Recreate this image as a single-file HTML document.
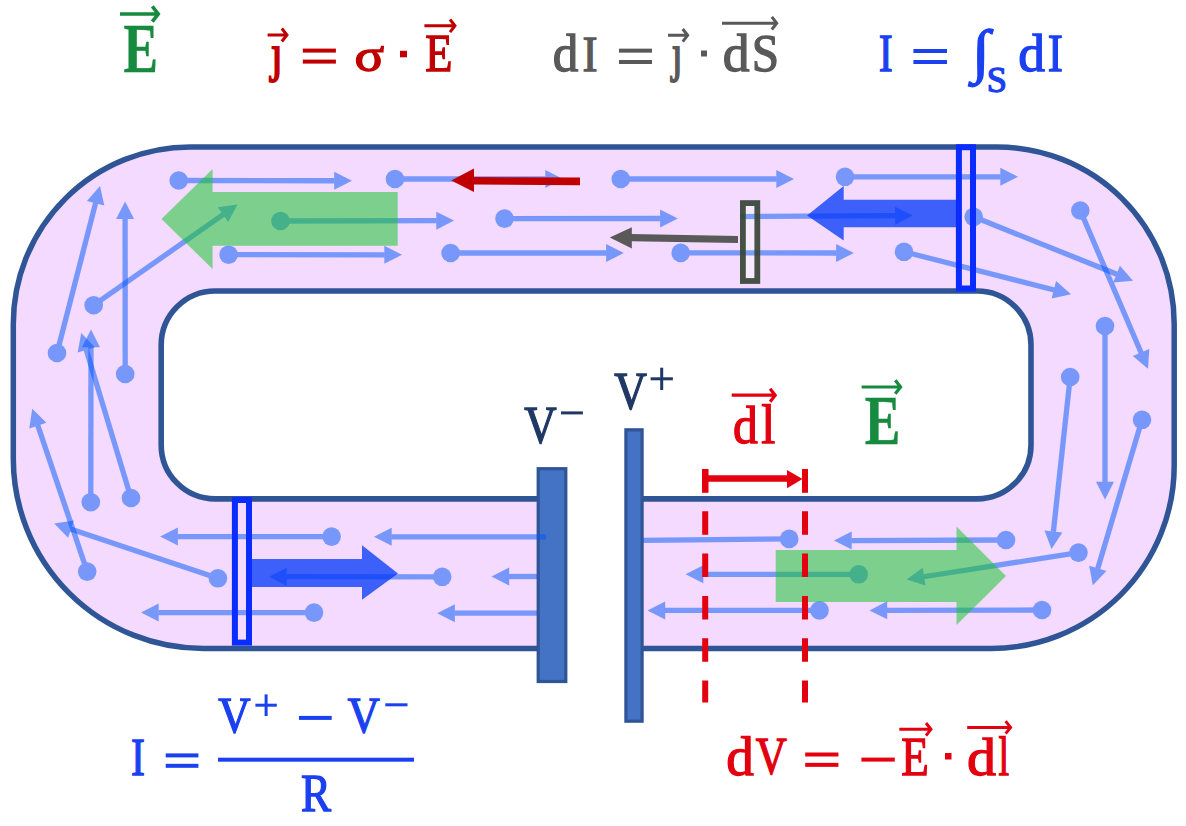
<!DOCTYPE html>
<html><head><meta charset="utf-8"><style>
html,body{margin:0;padding:0;background:#fff;}
svg{display:block;}
text{font-family:"Liberation Serif",serif;}
</style></head><body>
<svg width="1186" height="826" viewBox="0 0 1186 826">
<rect width="1186" height="826" fill="#fff"/>
<path d="M190.30 147.00H997.20A177.00 177.00 0 0 1 1174.20 324.00V465.50A183.00 183.00 0 0 1 991.20 648.50H203.30A190.00 190.00 0 0 1 13.30 458.50V324.00A177.00 177.00 0 0 1 190.30 147.00Z" fill="#f3dafe" stroke="#2f5597" stroke-width="5.5"/>
<path d="M215.20 291.00H977.00A54.00 54.00 0 0 1 1031.00 345.00V444.90A54.00 54.00 0 0 1 977.00 498.90H215.20A54.00 54.00 0 0 1 161.20 444.90V345.00A54.00 54.00 0 0 1 215.20 291.00Z" fill="#ffffff" stroke="#2f5597" stroke-width="5.6"/>
<rect x="566.00" y="485.00" width="59.00" height="180.00" fill="#ffffff"/>
<rect x="538.2" y="468.7" width="27.6" height="212.8" fill="#4472c4" stroke="#2f5597" stroke-width="3.2"/>
<rect x="625.9" y="429.8" width="16.2" height="291.4" fill="#4472c4" stroke="#2f5597" stroke-width="3.2"/>
<rect x="742.9" y="203.1" width="14.4" height="77.9" fill="#ffffff" opacity="0.4"/>
<g opacity="0.50"><path d="M178.70 180.50L334.70 180.77" stroke="#0056fa" stroke-width="5.30"/><path d="M351.90 180.80L334.18 189.77L334.22 171.77Z" fill="#0056fa"/><circle cx="178.70" cy="180.50" r="9.30" fill="#0056fa"/></g>
<g opacity="0.50"><path d="M395.00 179.00L545.80 179.00" stroke="#0056fa" stroke-width="5.30"/><path d="M563.00 179.00L545.30 188.00L545.30 170.00Z" fill="#0056fa"/><circle cx="395.00" cy="179.00" r="9.30" fill="#0056fa"/></g>
<g opacity="0.50"><path d="M620.80 179.00L776.80 179.00" stroke="#0056fa" stroke-width="5.30"/><path d="M794.00 179.00L776.30 188.00L776.30 170.00Z" fill="#0056fa"/><circle cx="620.80" cy="179.00" r="9.30" fill="#0056fa"/></g>
<g opacity="0.50"><path d="M845.00 176.80L1000.80 176.80" stroke="#0056fa" stroke-width="5.30"/><path d="M1018.00 176.80L1000.30 185.80L1000.30 167.80Z" fill="#0056fa"/><circle cx="845.00" cy="176.80" r="9.30" fill="#0056fa"/></g>
<g opacity="0.50"><path d="M280.50 221.00L436.80 220.64" stroke="#0056fa" stroke-width="5.30"/><path d="M454.00 220.60L436.32 229.64L436.28 211.64Z" fill="#0056fa"/><circle cx="280.50" cy="221.00" r="9.30" fill="#0056fa"/></g>
<g opacity="0.50"><path d="M504.50 218.60L660.60 218.51" stroke="#0056fa" stroke-width="5.30"/><path d="M677.80 218.50L660.11 227.51L660.09 209.51Z" fill="#0056fa"/><circle cx="504.50" cy="218.60" r="9.30" fill="#0056fa"/></g>
<g opacity="0.50"><path d="M740.00 216.60L895.60 215.70" stroke="#0056fa" stroke-width="5.30"/><path d="M912.80 215.60L895.15 224.70L895.05 206.70Z" fill="#0056fa"/></g>
<g opacity="0.50"><path d="M973.70 216.80L1117.04 274.30" stroke="#0056fa" stroke-width="5.30"/><path d="M1133.00 280.70L1113.22 282.46L1119.92 265.76Z" fill="#0056fa"/><circle cx="973.70" cy="216.80" r="9.30" fill="#0056fa"/></g>
<g opacity="0.50"><path d="M228.60 254.70L384.80 254.79" stroke="#0056fa" stroke-width="5.30"/><path d="M402.00 254.80L384.29 263.79L384.31 245.79Z" fill="#0056fa"/><circle cx="228.60" cy="254.70" r="9.30" fill="#0056fa"/></g>
<g opacity="0.50"><path d="M450.60 253.00L606.60 253.00" stroke="#0056fa" stroke-width="5.30"/><path d="M623.80 253.00L606.10 262.00L606.10 244.00Z" fill="#0056fa"/><circle cx="450.60" cy="253.00" r="9.30" fill="#0056fa"/></g>
<g opacity="0.50"><path d="M680.70 252.90L836.60 252.99" stroke="#0056fa" stroke-width="5.30"/><path d="M853.80 253.00L836.09 261.99L836.11 243.99Z" fill="#0056fa"/><circle cx="680.70" cy="252.90" r="9.30" fill="#0056fa"/></g>
<g opacity="0.50"><path d="M904.00 251.80L1054.33 289.97" stroke="#0056fa" stroke-width="5.30"/><path d="M1071.00 294.20L1051.63 298.57L1056.06 281.12Z" fill="#0056fa"/><circle cx="904.00" cy="251.80" r="9.30" fill="#0056fa"/></g>
<g opacity="0.50"><path d="M1080.30 210.50L1141.24 352.99" stroke="#0056fa" stroke-width="5.30"/><path d="M1148.00 368.80L1132.77 356.06L1149.32 348.99Z" fill="#0056fa"/><circle cx="1080.30" cy="210.50" r="9.30" fill="#0056fa"/></g>
<g opacity="0.50"><path d="M1105.00 326.00L1105.00 482.30" stroke="#0056fa" stroke-width="5.30"/><path d="M1105.00 499.50L1096.00 481.80L1114.00 481.80Z" fill="#0056fa"/><circle cx="1105.00" cy="326.00" r="9.30" fill="#0056fa"/></g>
<g opacity="0.50"><path d="M1070.20 377.00L1053.36 531.90" stroke="#0056fa" stroke-width="5.30"/><path d="M1051.50 549.00L1044.47 530.43L1062.36 532.38Z" fill="#0056fa"/><circle cx="1070.20" cy="377.00" r="9.30" fill="#0056fa"/></g>
<g opacity="0.50"><path d="M1142.00 419.80L1097.70 568.81" stroke="#0056fa" stroke-width="5.30"/><path d="M1092.80 585.30L1089.22 565.77L1106.47 570.90Z" fill="#0056fa"/><circle cx="1142.00" cy="419.80" r="9.30" fill="#0056fa"/></g>
<g opacity="0.50"><path d="M1078.50 552.60L923.59 576.75" stroke="#0056fa" stroke-width="5.30"/><path d="M906.60 579.40L922.70 567.78L925.48 585.57Z" fill="#0056fa"/><circle cx="1078.50" cy="552.60" r="9.30" fill="#0056fa"/></g>
<g opacity="0.50"><path d="M1006.00 540.00L851.20 540.54" stroke="#0056fa" stroke-width="5.30"/><path d="M834.00 540.60L851.67 531.54L851.73 549.54Z" fill="#0056fa"/><circle cx="1006.00" cy="540.00" r="9.30" fill="#0056fa"/></g>
<g opacity="0.50"><path d="M1042.00 610.00L886.70 610.36" stroke="#0056fa" stroke-width="5.30"/><path d="M869.50 610.40L887.18 601.36L887.22 619.36Z" fill="#0056fa"/><circle cx="1042.00" cy="610.00" r="9.30" fill="#0056fa"/></g>
<g opacity="0.50"><path d="M858.70 574.30L702.80 574.30" stroke="#0056fa" stroke-width="5.30"/><path d="M685.60 574.30L703.30 565.30L703.30 583.30Z" fill="#0056fa"/><circle cx="858.70" cy="574.30" r="9.30" fill="#0056fa"/></g>
<g opacity="0.50"><path d="M819.50 610.40L664.70 610.40" stroke="#0056fa" stroke-width="5.30"/><path d="M647.50 610.40L665.20 601.40L665.20 619.40Z" fill="#0056fa"/><circle cx="819.50" cy="610.40" r="9.30" fill="#0056fa"/></g>
<g opacity="0.50"><path d="M546.00 536.80L391.20 536.80" stroke="#0056fa" stroke-width="5.30"/><path d="M374.00 536.80L391.70 527.80L391.70 545.80Z" fill="#0056fa"/></g>
<g opacity="0.50"><path d="M537.00 576.50L508.70 576.50" stroke="#0056fa" stroke-width="5.30"/><path d="M491.50 576.50L509.20 567.50L509.20 585.50Z" fill="#0056fa"/></g>
<g opacity="0.50"><path d="M442.20 576.80L286.20 576.71" stroke="#0056fa" stroke-width="5.30"/><path d="M269.00 576.70L286.71 567.71L286.69 585.71Z" fill="#0056fa"/><circle cx="442.20" cy="576.80" r="9.30" fill="#0056fa"/></g>
<g opacity="0.50"><path d="M537.00 613.10L454.40 613.18" stroke="#0056fa" stroke-width="5.30"/><path d="M437.20 613.20L454.89 604.18L454.91 622.18Z" fill="#0056fa"/></g>
<g opacity="0.50"><path d="M331.60 536.60L177.40 536.60" stroke="#0056fa" stroke-width="5.30"/><path d="M160.20 536.60L177.90 527.60L177.90 545.60Z" fill="#0056fa"/><circle cx="331.60" cy="536.60" r="9.30" fill="#0056fa"/></g>
<g opacity="0.50"><path d="M217.90 578.30L70.51 528.96" stroke="#0056fa" stroke-width="5.30"/><path d="M54.20 523.50L73.84 520.58L68.13 537.65Z" fill="#0056fa"/><circle cx="217.90" cy="578.30" r="9.30" fill="#0056fa"/></g>
<g opacity="0.50"><path d="M314.00 612.60L158.20 612.60" stroke="#0056fa" stroke-width="5.30"/><path d="M141.00 612.60L158.70 603.60L158.70 621.60Z" fill="#0056fa"/><circle cx="314.00" cy="612.60" r="9.30" fill="#0056fa"/></g>
<g opacity="0.50"><path d="M87.20 571.60L37.71 425.10" stroke="#0056fa" stroke-width="5.30"/><path d="M32.20 408.80L46.39 422.69L29.34 428.45Z" fill="#0056fa"/><circle cx="87.20" cy="571.60" r="9.30" fill="#0056fa"/></g>
<g opacity="0.50"><path d="M90.80 502.20L90.98 346.80" stroke="#0056fa" stroke-width="5.30"/><path d="M91.00 329.60L99.98 347.31L81.98 347.29Z" fill="#0056fa"/><circle cx="90.80" cy="502.20" r="9.30" fill="#0056fa"/></g>
<g opacity="0.50"><path d="M131.00 498.00L86.17 349.47" stroke="#0056fa" stroke-width="5.30"/><path d="M81.20 333.00L94.93 347.34L77.70 352.55Z" fill="#0056fa"/><circle cx="131.00" cy="498.00" r="9.30" fill="#0056fa"/></g>
<g opacity="0.50"><path d="M57.00 353.00L95.71 202.66" stroke="#0056fa" stroke-width="5.30"/><path d="M100.00 186.00L104.30 205.39L86.87 200.90Z" fill="#0056fa"/><circle cx="57.00" cy="353.00" r="9.30" fill="#0056fa"/></g>
<g opacity="0.50"><path d="M125.20 374.00L125.11 218.60" stroke="#0056fa" stroke-width="5.30"/><path d="M125.10 201.40L134.11 219.09L116.11 219.11Z" fill="#0056fa"/><circle cx="125.20" cy="374.00" r="9.30" fill="#0056fa"/></g>
<g opacity="0.50"><path d="M93.70 305.20L223.41 214.37" stroke="#0056fa" stroke-width="5.30"/><path d="M237.50 204.50L228.16 222.03L217.84 207.28Z" fill="#0056fa"/><circle cx="93.70" cy="305.20" r="9.30" fill="#0056fa"/></g>
<g opacity="0.5"><path d="M643 540.4L789.2 538.9" stroke="#0056fa" stroke-width="5.3"/><circle cx="789.2" cy="538.9" r="9.3" fill="#0056fa"/></g>
<path d="M161.50 219.00L212.60 169.00L212.60 192.00L397.70 192.00L397.70 245.80L212.60 245.80L212.60 269.00Z" fill="#1cc62f" opacity="0.55"/>
<path d="M1006 576L956.5 526.4L956.5 550L775.7 550L775.7 602L956.5 602L956.5 625Z" fill="#1cc62f" opacity="0.55"/>
<path d="M807.10 215.60L843.70 186.00L843.70 199.80L958.00 199.80L958.00 227.30L843.70 227.30L843.70 240.40Z" fill="#0037fa" opacity="0.75"/>
<path d="M398 573.5L362 545.3L362 559L249 559L249 587L362 587L362 599.8Z" fill="#0037fa" opacity="0.75"/>
<path d="M474 177L580 177.6L580 185.2L474 184.6Z" fill="#c00000"/>
<path d="M451.2 180.5L474 168.6L474 192Z" fill="#c00000"/>
<path d="M631 234L738 235.9L738 243L631 241.2Z" fill="#595959"/>
<path d="M609.8 237.6L631.8 227.3L631.8 248.5Z" fill="#595959"/>
<rect x="742.9" y="203.1" width="14.4" height="77.9" fill="none" stroke="#374637" stroke-width="5.8" opacity="0.93"/>
<rect x="958.9" y="147.2" width="14.1" height="141.3" fill="none" stroke="#0a2cff" stroke-width="6"/>
<rect x="234.9" y="500" width="14.1" height="142.6" fill="none" stroke="#0a2cff" stroke-width="6"/>
<path d="M705.2 469V702.6" stroke="#e3000f" stroke-width="6" stroke-dasharray="23.5 18.8"/>
<path d="M805 469V702.6" stroke="#e3000f" stroke-width="6" stroke-dasharray="23.5 18.8"/>
<rect x="702.00" y="469.00" width="6.40" height="23.60" fill="#e3000f"/>
<rect x="802.00" y="469.00" width="5.90" height="23.60" fill="#e3000f"/>
<path d="M708 478.6H790" stroke="#e3000f" stroke-width="6.5"/>
<path d="M802.5 478.9L787 469.9L787 488.3Z" fill="#e3000f"/>
<text transform="translate(123.42,71.60) scale(0.7452,1)" font-size="69.49" font-weight="bold" fill="#168a3e" stroke="#168a3e" stroke-width="0.40">E</text>
<path d="M120.00 14.00H158.42 M152.28 6.40L158.24 14.00L152.28 21.60" stroke="#168a3e" stroke-width="3.60" fill="none" stroke-linecap="butt" stroke-linejoin="miter"/>
<text transform="translate(270.69,70.72) scale(0.8320,1)" font-size="51.80" font-weight="normal" fill="#c00000" stroke="#c00000" stroke-width="1.90">ȷ</text>
<path d="M267.60 35.00H287.10 M281.82 28.50L286.95 35.00L281.82 41.50" stroke="#c00000" stroke-width="3.00" fill="none" stroke-linecap="butt" stroke-linejoin="miter"/>
<rect x="302.80" y="48.60" width="33.10" height="4.00" fill="#c00000"/><rect x="302.80" y="59.60" width="33.10" height="4.00" fill="#c00000"/>
<text transform="translate(354.56,70.89) scale(1.1603,1)" font-size="47.36" font-weight="normal" fill="#c00000" stroke="#c00000" stroke-width="1.30">σ</text>
<rect x="400.00" y="50.80" width="7.00" height="6.50" fill="#c00000"/>
<text transform="translate(425.37,70.95) scale(0.8501,1)" font-size="52.38" font-weight="normal" fill="#c00000" stroke="#c00000" stroke-width="1.30">E</text>
<path d="M424.40 25.80H455.10 M450.01 19.50L454.95 25.80L450.01 32.10" stroke="#c00000" stroke-width="3.00" fill="none" stroke-linecap="butt" stroke-linejoin="miter"/>
<text transform="translate(552.80,70.54) scale(0.9886,1)" font-size="51.73" font-weight="normal" fill="#595959" stroke="#595959" stroke-width="1.30">d</text>
<text transform="translate(582.52,71.05) scale(0.8919,1)" font-size="50.55" font-weight="normal" fill="#595959" stroke="#595959" stroke-width="1.30">I</text>
<rect x="619.00" y="48.65" width="33.00" height="4.00" fill="#595959"/><rect x="619.00" y="60.00" width="33.00" height="4.00" fill="#595959"/>
<text transform="translate(671.86,70.93) scale(0.7299,1)" font-size="52.69" font-weight="normal" fill="#595959" stroke="#595959" stroke-width="1.90">ȷ</text>
<path d="M668.00 35.30H687.80 M682.72 29.00L687.65 35.30L682.72 41.60" stroke="#595959" stroke-width="3.00" fill="none" stroke-linecap="butt" stroke-linejoin="miter"/>
<rect x="701.00" y="50.50" width="6.00" height="6.00" fill="#595959"/>
<text transform="translate(722.71,70.54) scale(1.0357,1)" font-size="51.73" font-weight="normal" fill="#595959" stroke="#595959" stroke-width="1.30">d</text>
<text transform="translate(751.86,70.53) scale(0.9148,1)" font-size="53.73" font-weight="normal" fill="#595959" stroke="#595959" stroke-width="1.30">S</text>
<path d="M722.00 23.20H776.90 M771.81 16.90L776.75 23.20L771.81 29.50" stroke="#595959" stroke-width="3.00" fill="none" stroke-linecap="butt" stroke-linejoin="miter"/>
<text transform="translate(878.83,71.35) scale(0.7863,1)" font-size="53.45" font-weight="normal" fill="#1a40f0" stroke="#1a40f0" stroke-width="1.30">I</text>
<rect x="913.40" y="49.00" width="33.60" height="4.00" fill="#1a40f0"/><rect x="913.40" y="60.00" width="33.60" height="4.00" fill="#1a40f0"/>
<text transform="translate(972.07,70.52) scale(1.1093,1)" font-size="59.07" font-weight="normal" fill="#1a40f0" stroke="#1a40f0" stroke-width="1.30">∫</text>
<text transform="translate(986.82,92.21) scale(1.0372,1)" font-size="34.98" font-weight="normal" fill="#1a40f0" stroke="#1a40f0" stroke-width="1.30">S</text>
<text transform="translate(1018.32,70.84) scale(1.0230,1)" font-size="52.16" font-weight="normal" fill="#1a40f0" stroke="#1a40f0" stroke-width="1.30">d</text>
<text transform="translate(1047.81,71.35) scale(0.8506,1)" font-size="53.45" font-weight="normal" fill="#1a40f0" stroke="#1a40f0" stroke-width="1.30">I</text>
<text transform="translate(524.15,442.75) scale(0.8445,1)" font-size="53.14" font-weight="normal" fill="#1f3864" stroke="#1f3864" stroke-width="1.30">V</text>
<rect x="561.00" y="411.40" width="21.90" height="3.00" fill="#1f3864"/>
<text transform="translate(614.14,408.55) scale(0.8522,1)" font-size="52.99" font-weight="normal" fill="#1f3864" stroke="#1f3864" stroke-width="1.30">V</text>
<rect x="650.60" y="377.30" width="22.30" height="3.00" fill="#1f3864"/>
<rect x="660.20" y="367.70" width="3.00" height="22.30" fill="#1f3864"/>
<text transform="translate(733.06,442.53) scale(0.9305,1)" font-size="53.30" font-weight="normal" fill="#e3000f" stroke="#e3000f" stroke-width="1.30">d</text>
<text transform="translate(761.34,443.05) scale(0.9337,1)" font-size="54.05" font-weight="normal" fill="#e3000f" stroke="#e3000f" stroke-width="1.30">l</text>
<path d="M731.70 395.20H775.34 M770.12 388.70L775.18 395.20L770.12 401.70" stroke="#e3000f" stroke-width="3.20" fill="none" stroke-linecap="butt" stroke-linejoin="miter"/>
<text transform="translate(864.79,443.50) scale(0.7744,1)" font-size="69.03" font-weight="bold" fill="#168a3e" stroke="#168a3e" stroke-width="0.40">E</text>
<path d="M861.60 387.00H900.74 M895.24 380.20L900.58 387.00L895.24 393.80" stroke="#168a3e" stroke-width="3.20" fill="none" stroke-linecap="butt" stroke-linejoin="miter"/>
<text transform="translate(130.95,774.75) scale(0.7904,1)" font-size="52.69" font-weight="normal" fill="#1a40f0" stroke="#1a40f0" stroke-width="1.30">I</text>
<rect x="165.70" y="753.40" width="32.70" height="4.00" fill="#1a40f0"/><rect x="165.70" y="763.80" width="32.70" height="4.00" fill="#1a40f0"/>
<rect x="218.00" y="757.70" width="196.00" height="4.00" fill="#1a40f0"/>
<text transform="translate(218.15,732.17) scale(0.8714,1)" font-size="51.50" font-weight="normal" fill="#1a40f0" stroke="#1a40f0" stroke-width="1.30">V</text>
<rect x="255.40" y="703.70" width="21.40" height="3.00" fill="#1a40f0"/>
<rect x="264.60" y="694.40" width="3.00" height="21.60" fill="#1a40f0"/>
<rect x="299.00" y="715.90" width="32.70" height="4.00" fill="#1a40f0"/>
<text transform="translate(347.55,732.17) scale(0.8686,1)" font-size="51.50" font-weight="normal" fill="#1a40f0" stroke="#1a40f0" stroke-width="1.30">V</text>
<rect x="385.30" y="703.30" width="22.20" height="3.00" fill="#1a40f0"/>
<text transform="translate(301.05,811.35) scale(0.8681,1)" font-size="51.93" font-weight="normal" fill="#1a40f0" stroke="#1a40f0" stroke-width="1.30">R</text>
<text transform="translate(726.16,774.62) scale(1.0235,1)" font-size="53.86" font-weight="normal" fill="#e3000f" stroke="#e3000f" stroke-width="1.30">d</text>
<text transform="translate(755.67,774.35) scale(0.8164,1)" font-size="52.69" font-weight="normal" fill="#e3000f" stroke="#e3000f" stroke-width="1.30">V</text>
<rect x="805.20" y="752.50" width="33.20" height="4.00" fill="#e3000f"/><rect x="805.20" y="762.85" width="33.20" height="4.00" fill="#e3000f"/>
<rect x="861.40" y="757.60" width="33.40" height="4.00" fill="#e3000f"/>
<text transform="translate(901.25,775.15) scale(0.8364,1)" font-size="53.91" font-weight="normal" fill="#e3000f" stroke="#e3000f" stroke-width="1.30">E</text>
<path d="M899.30 729.30H931.10 M926.01 723.00L930.95 729.30L926.01 735.60" stroke="#e3000f" stroke-width="3.00" fill="none" stroke-linecap="butt" stroke-linejoin="miter"/>
<rect x="945.00" y="753.00" width="6.50" height="6.50" fill="#e3000f"/>
<text transform="translate(967.05,774.62) scale(1.0769,1)" font-size="53.86" font-weight="normal" fill="#e3000f" stroke="#e3000f" stroke-width="1.30">d</text>
<text transform="translate(998.48,775.15) scale(0.7006,1)" font-size="54.62" font-weight="normal" fill="#e3000f" stroke="#e3000f" stroke-width="1.30">l</text>
<path d="M967.20 727.40H1010.70 M1005.62 721.10L1010.55 727.40L1005.62 733.70" stroke="#e3000f" stroke-width="3.00" fill="none" stroke-linecap="butt" stroke-linejoin="miter"/>
</svg>
</body></html>
